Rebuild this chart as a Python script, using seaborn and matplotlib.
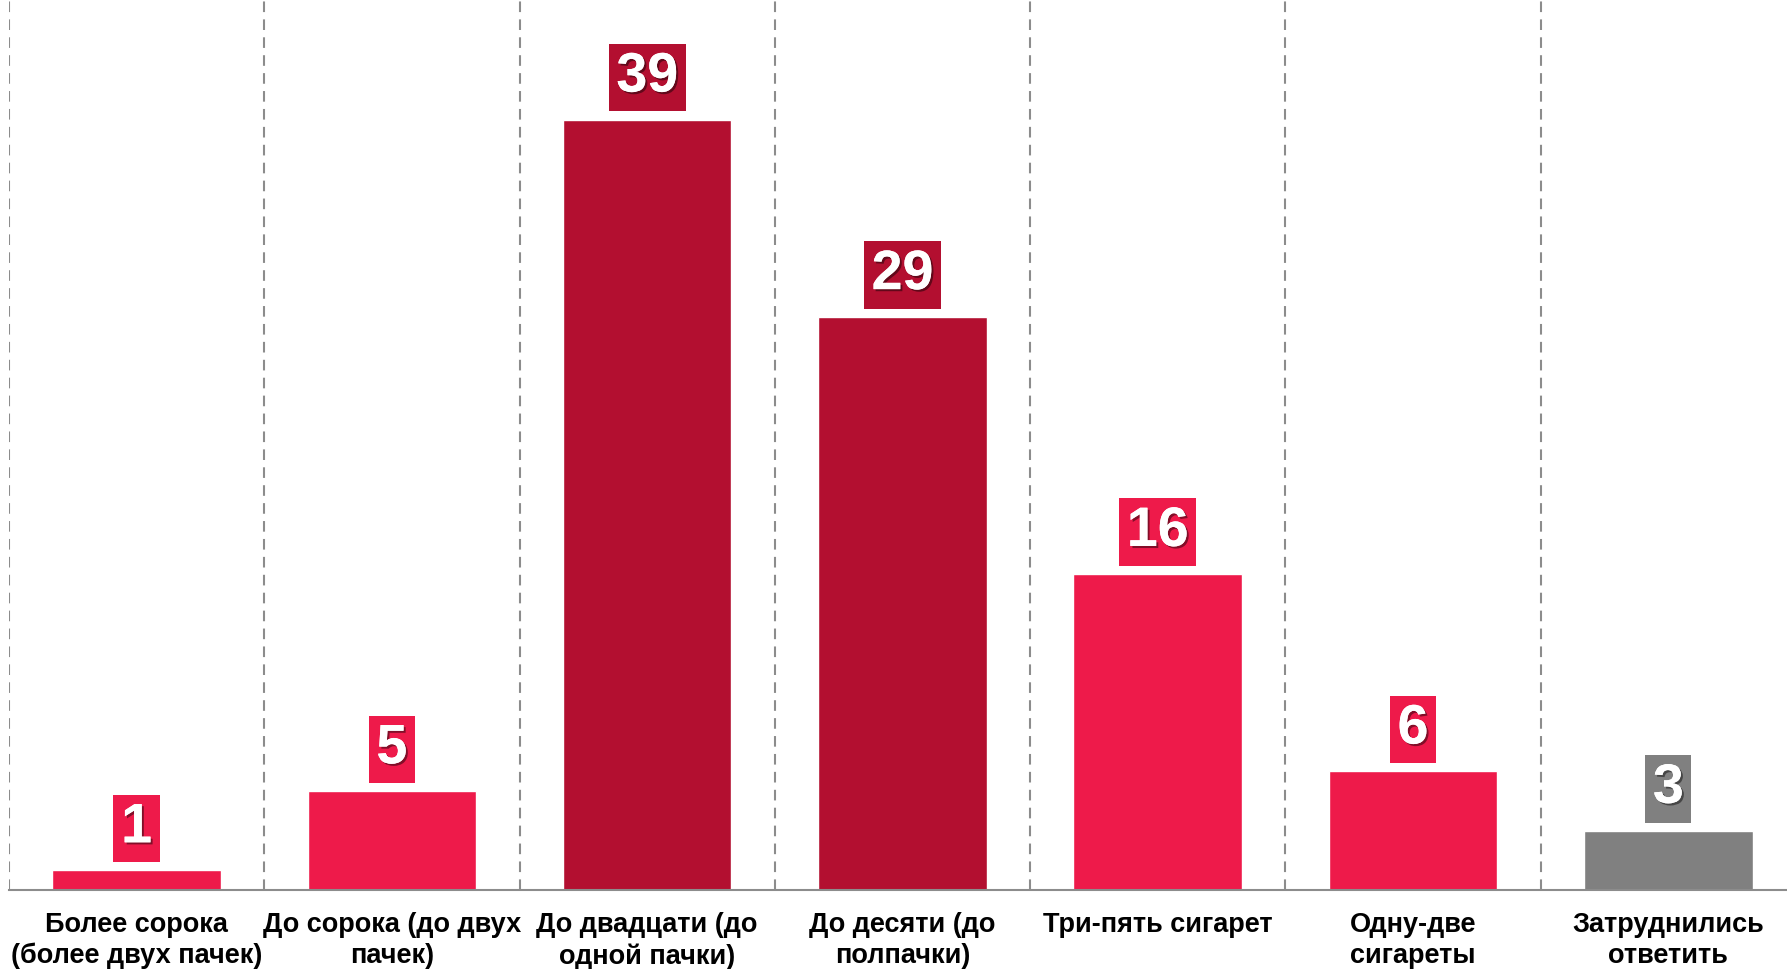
import matplotlib
matplotlib.use("Agg")
import matplotlib.pyplot as plt
import matplotlib.patheffects as pe
import numpy as np
import pandas as pd
import seaborn as sns

# Сколько сигарет в день выкуривают (%)
categories = [
    "Более сорока\n(более двух пачек)",
    "До сорока (до двух\nпачек)",
    "До двадцати (до\nодной пачки)",
    "До десяти (до\nполпачки)",
    "Три-пять сигарет",
    "Одну-две\nсигареты",
    "Затруднились\nответить",
]
values = [1, 5, 39, 29, 16, 6, 3]
bar_colors = ["#EE1A4A", "#EE1A4A", "#B30F30", "#B30F30", "#EE1A4A", "#EE1A4A", "#808080"]

df = pd.DataFrame({"cat": categories, "val": values})

sns.set_theme(style="white")
plt.rcParams["font.family"] = ["Liberation Sans", "DejaVu Sans"]

fig = plt.figure(figsize=(17.87, 9.70), dpi=100)
ax = fig.add_axes([0.005, 0.0814, 1.0, 0.9186])

sns.barplot(data=df, x="cat", y="val", hue="cat", palette=bar_colors,
            legend=False, width=0.66, saturation=1, ax=ax)

ax.set_xlim(-0.5, len(categories) - 0.5)
ax.set_ylim(0, 45.1)

# value boxes above bars
shadow = [pe.withSimplePatchShadow(offset=(1.5, -1.5), shadow_rgbFace="black", alpha=0.45),
          pe.Normal()]
for i, (v, c) in enumerate(zip(values, bar_colors)):
    t = ax.annotate(str(v), xy=(i, v), xytext=(0, 11.5), textcoords="offset points",
                    ha="center", va="bottom", fontsize=40, fontweight="bold", color="white",
                    bbox=dict(boxstyle="square,pad=0.14", fc=c, ec="none"))
    t.set_path_effects(shadow)

# axes styling
for s in ["top", "right", "left"]:
    ax.spines[s].set_visible(False)
ax.spines["bottom"].set_color("#8c8c8c")
ax.spines["bottom"].set_linewidth(1.5)

ax.set_yticks([])
ax.set_xlabel("")
ax.set_ylabel("")

ax.set_xticks(range(len(categories)))
ax.set_xticklabels(categories, fontsize=19.5, fontweight="bold", color="black",
                   linespacing=1.25)
ax.tick_params(axis="x", which="major", length=0, pad=15)

bounds = np.arange(len(categories) + 1) - 0.5
ax.set_xticks(bounds, minor=True)
ax.tick_params(axis="x", which="minor", length=5, width=1.5, color="#8c8c8c", direction="out")
ax.grid(False)
for b in bounds:
    ax.axvline(b, color="#8c8c8c", lw=1.5, ls=(0, (5.1, 3.5)), zorder=0)

fig.savefig("out.png", dpi=100)
